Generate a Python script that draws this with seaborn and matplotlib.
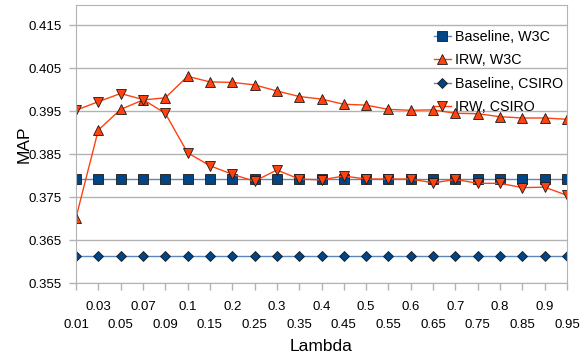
import numpy as np
import pandas as pd
import matplotlib.pyplot as plt
import seaborn as sns

# === Data ===
lambdas = ["0.01", "0.03", "0.05", "0.07", "0.09", "0.1", "0.15", "0.2", "0.25", "0.3",
           "0.35", "0.4", "0.45", "0.5", "0.55", "0.6", "0.65", "0.7", "0.75", "0.8",
           "0.85", "0.9", "0.95"]
baseline_w3c = [0.3792] * 23
irw_w3c = [0.3702, 0.3906, 0.3954, 0.3976, 0.3981, 0.4031, 0.4018, 0.4017, 0.4011, 0.3997,
           0.3984, 0.3978, 0.3966, 0.3964, 0.3954, 0.3952, 0.3953, 0.3945, 0.3944, 0.3937,
           0.3934, 0.3934, 0.3931]
baseline_csiro = [0.3613] * 23
irw_csiro = [0.3952, 0.3972, 0.3991, 0.3977, 0.3945, 0.3853, 0.3823, 0.3803, 0.3787, 0.3813,
             0.3792, 0.3790, 0.3799, 0.3792, 0.3792, 0.3792, 0.3783, 0.3791, 0.3782, 0.3782,
             0.3772, 0.3773, 0.3754]
yticks = [0.355, 0.365, 0.375, 0.385, 0.395, 0.405, 0.415]

pos = np.arange(len(lambdas))
series = [
    ("Baseline, W3C", baseline_w3c, "s", "#004586", "#5b87bd", 7),
    ("IRW, W3C", irw_w3c, "^", "#ff420e", "#ff420e", 7.5),
    ("Baseline, CSIRO", baseline_csiro, "D", "#004586", "#5b87bd", 5.5),
    ("IRW, CSIRO", irw_csiro, "v", "#ff420e", "#ff420e", 7.5),
]

plt.rcParams['font.family'] = ['Liberation Sans', 'DejaVu Sans']
fig = plt.figure(figsize=(5.83, 3.6), dpi=100)
ax = fig.add_axes([76 / 583, 1 - 283 / 360, 491 / 583, 278 / 360])

for name, vals, mk, fc, lc, ms in series:
    sns.lineplot(x=pos, y=vals, ax=ax, label=name, color=lc, linewidth=1.0,
                 marker=mk, markersize=ms, markerfacecolor=fc,
                 markeredgecolor="#1a1a1a", markeredgewidth=0.6)

ax.set_xlim(0, len(lambdas) - 1)
ax.set_ylim(0.355, 0.4197)
ax.set_yticks(yticks)
ax.set_yticklabels([f"{t:.3f}" for t in yticks], fontsize=9.5)

# staggered x labels: even positions on the lower row (major), odd on the upper row (minor)
ax.set_xticks(pos[::2])
ax.set_xticklabels(lambdas[::2], fontsize=9.5)
ax.set_xticks(pos[1::2], minor=True)
ax.set_xticklabels(lambdas[1::2], minor=True, fontsize=9.5)

ax.grid(axis="y", color="#b3b3b3", linewidth=1)
ax.set_axisbelow(True)
for sp in ax.spines.values():
    sp.set_color("#b3b3b3")
ax.tick_params(axis="y", color="#b3b3b3", length=5, width=1, pad=5)
ax.tick_params(axis="x", which="major", color="#b3b3b3", length=5, width=1, pad=21)
ax.tick_params(axis="x", which="minor", color="#b3b3b3", length=5, width=1, pad=8)
ax.set_xlabel("Lambda", fontsize=12.5, labelpad=6)
ax.set_ylabel("MAP", fontsize=12.5, labelpad=-2)

leg = ax.legend(loc="upper left", bbox_to_anchor=(428 / 583, 1 - 24 / 360),
                bbox_transform=fig.transFigure, frameon=False, fontsize=10.3,
                handlelength=1.2, handletextpad=0.3, labelspacing=0.66, borderaxespad=0)

fig.savefig("out.png", dpi=100)
